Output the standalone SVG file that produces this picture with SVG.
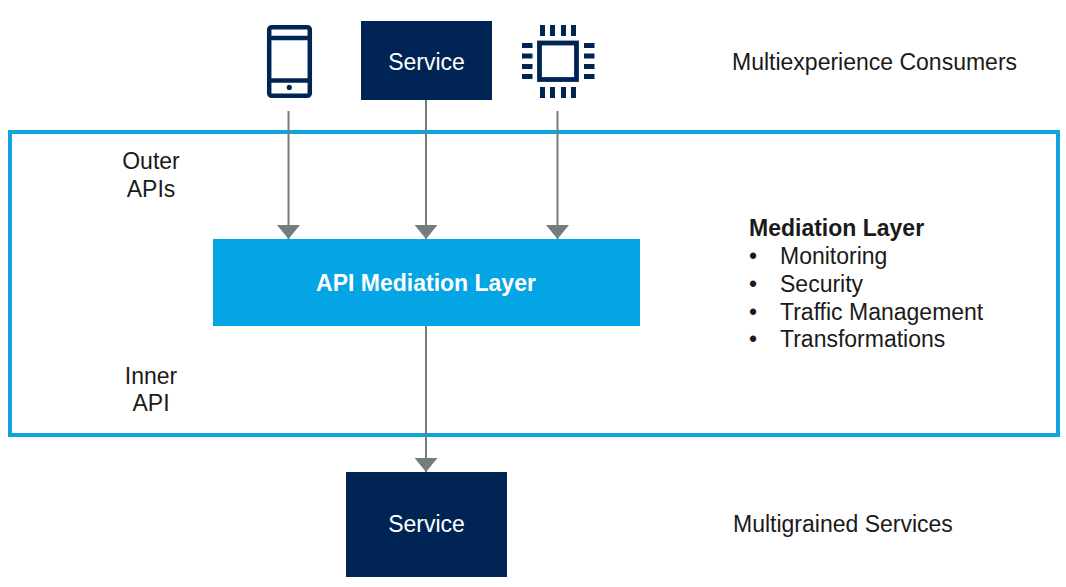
<svg xmlns="http://www.w3.org/2000/svg" width="1066" height="587" viewBox="0 0 1066 587">
<style>
text{font-family:"Liberation Sans",Arial,sans-serif;font-size:23px;fill:#1a1a1a}
.c{text-anchor:middle}
.w{fill:#fff}
.b{font-weight:700}
.navy{fill:#002554}
.ico{fill:none;stroke:#002554}
.conn{stroke:#747d7d;stroke-width:2;fill:none;marker-end:url(#a)}
</style>
<defs>
<marker id="a" markerUnits="userSpaceOnUse" markerWidth="14" markerHeight="23" refX="14" refY="11.500" orient="auto">
<path d="M0 0L14 11.500L0 23Z" fill="#747d7d"/>
</marker>
</defs>
<rect width="1066" height="587" fill="#fff"/>
<g id="layer-frame"><rect x="10" y="132" width="1048" height="303" fill="none" stroke="#0ea5dc" stroke-width="4"/></g>
<g id="connectors">
<path class="conn" d="M288.500 111V239"/>
<path class="conn" d="M426 100V239"/>
<path class="conn" d="M557.500 111V239"/>
<path class="conn" d="M426 326V472"/>
</g>
<g id="phone">
<rect x="269.200" y="27.200" width="40.600" height="68.600" rx="2.500" class="ico" stroke-width="4.500"/>
<path d="M269 38H310M269 80.500H310" class="ico" stroke-width="4.500"/>
<circle cx="289.300" cy="87.400" r="2.600" class="navy"/>
</g>
<g id="service-top">
<rect x="361" y="21" width="131" height="79" class="navy"/>
<text x="426.500" y="69.500" class="c w">Service</text>
</g>
<g id="chip">
<rect x="539.500" y="43" width="37" height="36.500" class="ico" stroke-width="4.800"/>
<path class="navy" d="M540 25h5v11H540zM550 25h5v11h-5zM561 25h5v11H561zM571 25h5v11H571zM540 87h5v11H540zM550 87h5v11h-5zM561 87h5v11H561zM571 87h5v11H571zM522 43h10.500v5H522zM522 53.500h10.500v5H522zM522 64h10.500v5H522zM522 74h10.500v5H522zM584 43h10.500v5H584zM584 53.500h10.500v5H584zM584 64h10.500v5H584zM584 74h10.500v5H584z"/>
</g>
<g id="consumers-label"><text x="732" y="69.500">Multiexperience Consumers</text></g>
<g id="outer-label"><text x="151" y="169" class="c">Outer</text><text x="151" y="197" class="c">APIs</text></g>
<g id="mediation">
<rect x="213" y="239" width="427" height="87" fill="#04a5e5"/>
<text x="426" y="290.500" class="c w b">API Mediation Layer</text>
</g>
<g id="mediation-list">
<text x="749" y="236" class="b">Mediation Layer</text>
<text x="749" y="264">•</text><text x="780" y="264">Monitoring</text>
<text x="749" y="292">•</text><text x="780" y="292">Security</text>
<text x="749" y="319.500">•</text><text x="780" y="319.500">Traffic Management</text>
<text x="749" y="347">•</text><text x="780" y="347">Transformations</text>
</g>
<g id="inner-label"><text x="151" y="384" class="c">Inner</text><text x="151" y="411" class="c">API</text></g>
<g id="service-bottom">
<rect x="346" y="472" width="161" height="105" class="navy"/>
<text x="426.500" y="532" class="c w">Service</text>
</g>
<g id="services-label"><text x="733" y="532">Multigrained Services</text></g>
</svg>
